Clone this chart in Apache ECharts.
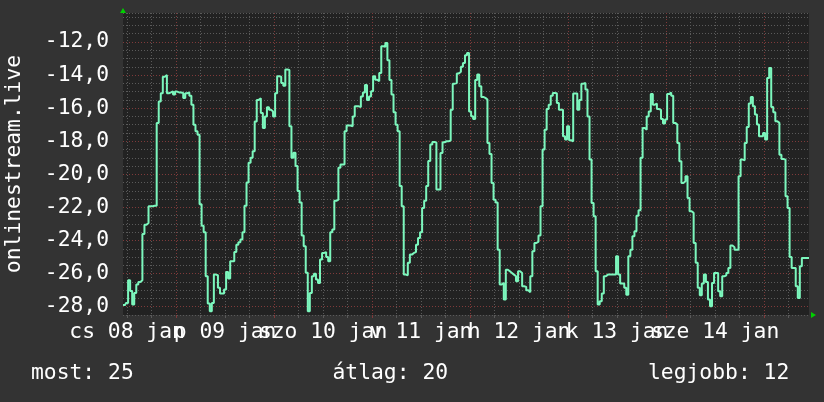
<!DOCTYPE html>
<html><head><meta charset="utf-8">
<script src="https://cdn.jsdelivr.net/npm/echarts@6/dist/echarts.min.js"></script>
<style>html,body{margin:0;padding:0;background:#333333;}#c{width:824px;height:402px;}</style>
</head><body><div id="c"></div>
<script>
// x = hours since 2015-01-08 00:00
const startHour = 11;
const stepHours = 0.5;
const endHour = 179;
const values = [
-27.9,-27.9,-27.77,-26.4,-27.05,-27.87,-27.17,-26.66,-26.5,-26.4,
-23.6,-23.05,-22.94,-21.93,-21.93,-21.9,-21.9,-16.89,-15.6,-15.1,
-14.1,-14.0,-15.1,-15.05,-14.98,-15.18,-15.0,-15.05,-15.05,-15.08,
-15.38,-15.1,-15.05,-15.25,-15.8,-17.0,-17.4,-17.6,-21.8,-23.1,
-23.5,-26.16,-27.8,-28.27,-27.77,-26.06,-26.1,-26.86,-27.2,-27.2,
-26.96,-25.9,-26.3,-25.25,-25.25,-24.7,
-24.25,-24.1,-23.94,-23.5,-21.9,-20.5,-19.3,-19.0,-18.6,-16.8,
-15.5,-15.4,-16.3,-17.2,-16.5,-15.95,-16.1,-16.2,-16.5,-15.1,
-14.07,-14.1,-14.48,-14.65,-13.67,-13.7,-17.1,-19.0,-18.7,-19.5,
-21.0,-21.7,-23.7,-24.35,-25.95,-28.27,-27.17,-26.16,-26.0,-26.36,
-26.56,-25.15,-24.75,-24.7,-25.0,-25.25,-23.5,-23.34,-21.6,-21.53,
-19.6,-19.41,-19.41,-17.4,-17.05,-17.05,
-17.1,-16.5,-15.89,-15.89,-15.93,-15.3,-15.05,-14.6,-15.5,-15.3,
-14.98,-14.07,-14.28,-14.38,-13.87,-12.26,-12.3,-12.06,-13.1,-14.3,
-15.18,-16.25,-17.0,-17.4,-20.7,-21.93,-26.06,-26.1,-25.35,-24.85,
-24.75,-24.7,-24.25,-23.84,-23.5,-22.03,-21.6,-20.7,-19.2,-18.2,
-18.05,-18.07,-20.92,-20.92,-18.71,-18.06,-18.0,-18.0,-17.96,-16.1,
-14.52,-14.48,-13.9,-13.8,-13.5,-13.27,
-12.8,-12.66,-16.2,-16.49,-16.65,-14.3,-13.97,-14.68,-15.32,-15.38,
-15.48,-18.1,-18.77,-20.52,-21.53,-21.7,-24.55,-26.66,-26.56,-27.57,
-25.76,-25.86,-25.96,-26.06,-26.16,-26.46,-25.86,-25.96,-26.76,-26.8,
-27.0,-27.12,-26.16,-24.65,-24.15,-24.07,-23.7,-21.93,-18.5,-17.3,
-16.05,-15.79,-15.25,-15.08,-15.1,-15.69,-16.09,-16.09,-17.7,-17.9,
-17.1,-17.94,-18.0,-15.12,-15.12,-16.09,
-15.5,-14.52,-14.48,-14.88,-16.5,-19.11,-21.73,-22.53,-25.86,-27.87,
-27.67,-27.2,-26.16,-26.06,-26.06,-26.06,-26.06,-26.06,-24.95,-26.06,
-26.6,-26.6,-26.86,-27.27,-24.95,-24.55,-23.74,-23.44,-22.5,-22.17,
-19.0,-17.2,-17.3,-16.5,-16.2,-15.15,-15.79,-15.72,-16.05,-16.1,
-16.65,-16.93,-16.69,-15.15,-15.06,-15.25,-16.89,-16.99,-18.1,-19.21,
-20.52,-20.42,-20.12,-21.43,-22.23,-22.33,
-24.15,-25.35,-26.86,-27.3,-26.6,-26.06,-26.5,-27.57,-27.97,-26.56,
-25.96,-25.96,-27.07,-27.37,-26.16,-26.1,-25.96,-25.66,-24.3,-24.4,
-24.55,-24.55,-20.12,-19.11,-19.15,-18.1,-17.14,-15.72,-15.32,-15.89,
-16.39,-16.99,-17.7,-17.7,-17.5,-17.9,-14.18,-13.57,-15.93,-16.25,
-16.79,-16.89,-18.81,-19.07,-19.11,-21.33,-22.03,-25.0,-25.66,-25.66,
-26.76,-27.47,-25.55,-25.05,-25.05,-25.05,-25.05
];
const dayLabels = ['cs 08 jan','p 09 jan','szo 10 jan','v 11 jan','h 12 jan','k 13 jan','sze 14 jan'];
const dayLabelHours = [12,36,60,84,108,132,156];
const dayBoundaryHours = [24,48,72,96,120,144,168];
const yTickValues = [-28,-26,-24,-22,-20,-18,-16,-14,-12];
const yMin = -28.5, yMax = -10.25, yMinorStep = 0.5;
const yTitle = 'onlinestream.live';
const legendTexts = ['most: 25','átlag: 20','legjobb: 12'];

const sixHourTicks = [];
for (let h = 12; h < endHour; h += 6) sixHourTicks.push(h);
const seriesData = values.map((v, i) => [startHour + i * stepHours, v]);
// split day labels over two axes so that ECharts does not drop overlapping neighbours
const labelHoursA = dayLabelHours.filter((h, i) => i % 2 === 0);
const labelHoursB = dayLabelHours.filter((h, i) => i % 2 === 1);

const FONT = 'DejaVu Sans Mono';
const FS = 21.33;
const GRAY = '#5a5a5a', RED = '#7f3a3a', ARROW = '#00d000';
const labelFmt = v => dayLabels[dayLabelHours.indexOf(Math.round(v))] || '';
const labelAxis = (vals) => ({
  type: 'value', min: startHour, max: endHour, position: 'bottom',
  axisLine: {show: false}, axisTick: {show: false}, splitLine: {show: false},
  axisLabel: {show: true, customValues: vals, margin: 7, color: '#ffffff', fontSize: FS, fontFamily: FONT,
    hideOverlap: false, showMinLabel: true, showMaxLabel: true, formatter: labelFmt}
});
const chart = echarts.init(document.getElementById('c'), null, {renderer: 'canvas'});
chart.setOption({
  backgroundColor: '#333333',
  animation: false,
  textStyle: {fontFamily: FONT},
  title: [
    {text: legendTexts[0], left: 31, top: 363},
    {text: legendTexts[1], left: 332.5, top: 363},
    {text: legendTexts[2], left: 648, top: 363}
  ].map(t => Object.assign(t, {padding: 0, textStyle: {fontFamily: FONT, fontSize: FS, fontWeight: 'normal', color: '#ffffff'}})),
  grid: {left: 123, top: 13, width: 686, height: 302, show: true, backgroundColor: '#222222', borderWidth: 0, outerBoundsMode: 'none', containLabel: false},
  xAxis: [
    {type: 'value', min: startHour, max: endHour,
     axisLine: {show: true, onZero: false, symbol: ['none', 'triangle'], symbolSize: [6, 5], symbolOffset: [0, 4.5], lineStyle: {color: ARROW, width: 0}},
     axisTick: {show: true, length: 3, customValues: sixHourTicks, lineStyle: {color: GRAY}},
     axisLabel: {show: false},
     splitLine: {show: true, lineStyle: {color: GRAY, type: [1, 2], width: 1}}},
    {type: 'value', min: startHour, max: endHour, position: 'bottom',
     axisLine: {show: false},
     axisTick: {show: true, length: 3, customValues: dayBoundaryHours, lineStyle: {color: RED}},
     axisLabel: {show: false},
     splitLine: {show: true, lineStyle: {color: RED, type: [1, 2], width: 1}}},
    labelAxis(labelHoursA),
    labelAxis(labelHoursB)
  ],
  yAxis: [
    {type: 'value', min: yMin, max: yMax, interval: yMinorStep,
     axisLine: {show: true, onZero: false, symbol: ['none', 'triangle'], symbolSize: [6, 5], symbolOffset: [0, 2.5], lineStyle: {color: ARROW, width: 0}},
     axisTick: {show: false}, axisLabel: {show: false},
     splitLine: {show: true, lineStyle: {color: GRAY, type: [1, 2], width: 1}}},
    {type: 'value', min: yMin, max: yMax, position: 'left',
     name: yTitle, nameLocation: 'middle', nameGap: 98,
     nameTextStyle: {color: '#ffffff', fontSize: FS, fontFamily: FONT},
     axisLine: {show: false},
     axisTick: {show: false, customValues: yTickValues},
     axisLabel: {show: true, customValues: yTickValues, margin: 14, color: '#ffffff', fontSize: FS, fontFamily: FONT,
       showMinLabel: true, showMaxLabel: true,
       formatter: v => v.toFixed(1).replace('.', ',')},
     splitLine: {show: true, lineStyle: {color: RED, type: [1, 2], width: 1}}}
  ],
  series: [{
    type: 'line', xAxisIndex: 1, yAxisIndex: 1, data: seriesData,
    showSymbol: false, symbol: 'none', step: 'middle',
    lineStyle: {color: '#7cf7bd', width: 2}
  }]
});
</script></body></html>
